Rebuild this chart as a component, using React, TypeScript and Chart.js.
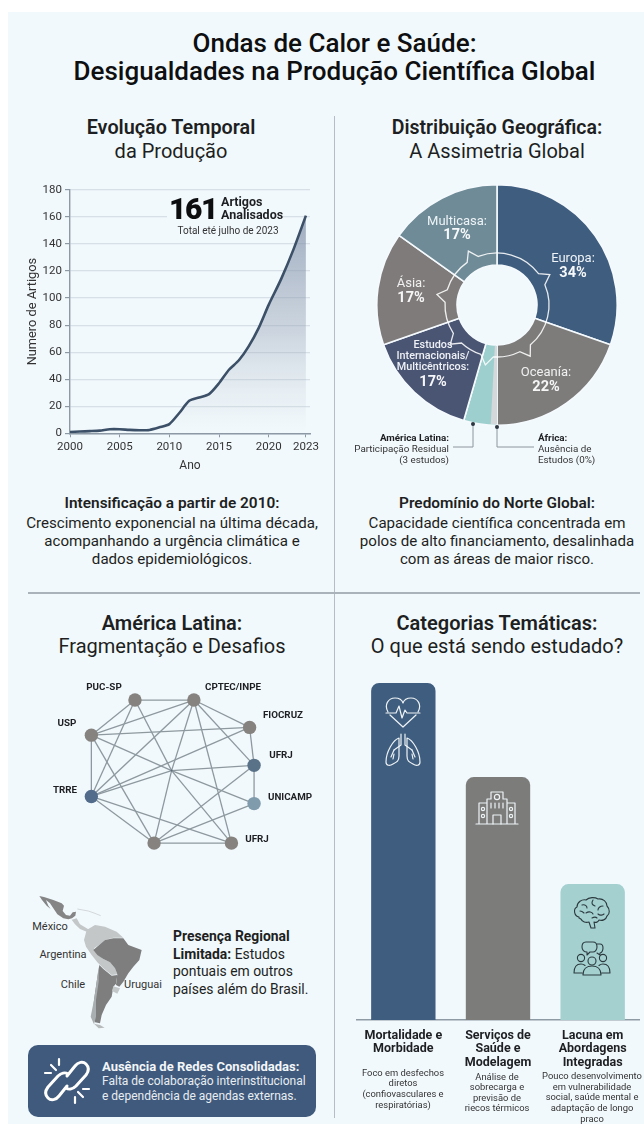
import React, { useEffect, useRef } from "react";
import { Chart, LinearScale, registerables } from "chart.js";

// Axis whose last three years are drawn wider than the rest of the timeline.
const YEAR_STRETCH_FROM = 2020;
const YEAR_STRETCH = 1.25;
class StretchedYearScale extends LinearScale {
  static id = "stretchedYear";
  static defaults = {};
  getPixelForValue(value: number) {
    const u = value <= YEAR_STRETCH_FROM ? value : YEAR_STRETCH_FROM + (value - YEAR_STRETCH_FROM) * YEAR_STRETCH;
    return super.getPixelForValue(u);
  }
}
Chart.register(...registerables, StretchedYearScale);

const FONT = "Roboto, 'Noto Sans', sans-serif";
const PAPER = "#f2f9fc";
const INK = "#1d1f22";

// Temporal evolution
const years = [2000, 2001, 2002, 2003, 2004, 2005, 2006, 2007, 2008, 2009, 2010, 2011, 2012, 2013, 2014, 2015, 2016, 2017, 2018, 2019, 2020, 2021, 2022, 2023];
const articleCounts = [1, 1.3, 1.6, 2, 3, 3, 2.5, 2.3, 2.5, 4.4, 6.8, 15, 24, 26.5, 29, 37, 47, 54, 64.5, 78, 95, 114, 136, 161];
const yearTicks = [2000, 2005, 2010, 2015, 2020, 2023];

// Geographic distribution
const regions = ["Europa", "Oceanía", "África", "América Latina", "Estudos Internacionais/Multicêntricos", "Ásia", "Multicasa"];
const regionShares = [34, 22, 0, 5, 17, 17, 17];
const regionColors = ["#3f5d7e", "#7d7c7b", "#d5d8da", "#9dcfcf", "#4a5473", "#807b7b", "#6f8b97"];
const gearTeethDegrees = [60, 147, 191, 230, 280, 332];

// Latin American collaboration network
const institutions = ["PUC-SP", "CPTEC/INPE", "FIOCRUZ", "UFRJ", "UNICAMP", "UFRJ", "", "TRRE", "USP", ""];
const nodeX = [340, 525, 700, 714, 714, 643, 400, 203, 203, 455];
const nodeY = [75, 75, 163, 285, 408, 535, 535, 385, 188, 302];
const nodeColors = ["#85827f", "#85827f", "#85827f", "#5a7288", "#7f9bac", "#85827f", "#85827f", "#546c8c", "#85827f", "#5a6a78"];
const nodeSizes = [6.7, 6.7, 6.7, 6.7, 6.7, 6.7, 6.7, 6.7, 6.7, 1];
const links = [
  [0, 1], [0, 8], [0, 7], [0, 9], [1, 8], [1, 7], [1, 9], [1, 2], [1, 3], [1, 5],
  [2, 8], [2, 7], [2, 3], [3, 4], [3, 6], [3, 9], [9, 7], [4, 6], [4, 9], [9, 8],
  [8, 7], [8, 6], [7, 6], [7, 5], [6, 5], [9, 5], [9, 6],
];

// Thematic categories
const themes = [["Mortalidade e", "Morbidade"], ["Serviços de", "Saúde e", "Modelagem"], ["Lacuna em", "Abordagens", "Integradas"]];
const themeWeights = [97.7, 70.4, 39.4];
const themeColors = ["#3f5d7f", "#7c7c7b", "#a4d0d0"];

function useChart(make: () => any) {
  const ref = useRef<HTMLCanvasElement>(null);
  useEffect(() => {
    const chart = new Chart(ref.current!, make());
    return () => chart.destroy();
  }, []);
  return ref;
}

function ChartCanvas({ left, top, width, height, make }: any) {
  const ref = useChart(make);
  return <canvas ref={ref} width={width} height={height} style={{ position: "absolute", left, top, width, height }} />;
}

function Txt({ x, y, size, weight = 400, color = INK, align = "center", children, spacing }: any) {
  const shift = align === "center" ? "-50%" : align === "right" ? "-100%" : "0";
  return (
    <div style={{
      position: "absolute", left: x, top: y, transform: `translate(${shift}, -50%)`, whiteSpace: "nowrap",
      fontFamily: FONT, fontSize: size, fontWeight: weight, color, lineHeight: 1.1, letterSpacing: spacing,
    }}>{children}</div>
  );
}

const lineConfig = () => ({
  type: "line",
  data: {
    datasets: [{
      data: years.map((x, i) => ({ x, y: articleCounts[i] })),
      borderColor: "#3c5068",
      borderWidth: 2.6,
      pointRadius: 0,
      tension: 0.25,
      fill: "origin",
      backgroundColor: (ctx: any) => {
        const area = ctx.chart.chartArea;
        if (!area) return "transparent";
        const g = ctx.chart.ctx.createLinearGradient(0, area.top + 25, 0, area.bottom);
        g.addColorStop(0, "rgba(126,142,168,0.72)");
        g.addColorStop(0.55, "rgba(150,162,182,0.4)");
        g.addColorStop(1, "rgba(190,200,214,0)");
        return g;
      },
    }],
  },
  options: {
    responsive: false,
    animation: false,
    layout: { autoPadding: false, padding: { top: 9.3, right: 20 } },
    plugins: { legend: { display: false }, tooltip: { enabled: false } },
    scales: {
      x: {
        type: "stretchedYear",
        min: 2000,
        max: 2024.16,
        afterBuildTicks: (s: any) => { s.ticks = yearTicks.map((value) => ({ value })); },
        afterFit: (s: any) => { s.height = 41.7; },
        ticks: { callback: (v: any) => String(v), autoSkip: false, maxRotation: 0, font: { family: FONT, size: 11.5 }, color: "#333", padding: 3 },
        grid: { drawOnChartArea: false, tickLength: 4, tickColor: "#8d9aa5" },
        border: { color: "#8d9aa5", width: 1.4 },
        title: { display: true, text: "Ano", font: { family: FONT, size: 12 }, color: "#333", padding: { bottom: 2, top: 0 } },
      },
      y: {
        min: 0,
        max: 180,
        afterFit: (s: any) => { s.width = 60; },
        ticks: { stepSize: 20, font: { family: FONT, size: 11.5 }, color: "#333", padding: 3 },
        grid: { color: "#d6e0e6", lineWidth: 1.2, tickLength: 5, tickColor: "#8d9aa5" },
        border: { color: "#8d9aa5", width: 1.4 },
        title: { display: true, text: "Numero de Artigos", font: { family: FONT, size: 12.8 }, color: "#333", padding: { top: 15, bottom: 0 } },
      },
    },
  },
});

// Draws the pale wedge of a zero-share region and the toothed ring over the slices.
const doughnutDecor = {
  id: "doughnutDecor",
  afterDatasetsDraw(chart: any) {
    const arcs = chart.getDatasetMeta(0).data;
    const zero = arcs[regionShares.indexOf(0)];
    const { ctx } = chart;
    const rad = Math.PI / 180;
    ctx.save();
    ctx.fillStyle = regionColors[2];
    ctx.beginPath();
    ctx.arc(zero.x, zero.y, zero.outerRadius - 1, zero.startAngle, zero.startAngle + 3 * rad);
    ctx.arc(zero.x, zero.y, zero.innerRadius + 1, zero.startAngle + 3 * rad, zero.startAngle, true);
    ctx.closePath();
    ctx.fill();

    ctx.strokeStyle = "rgba(255,255,255,0.88)";
    ctx.lineWidth = 1.3;
    ctx.beginPath();
    const ring = 52;
    const tip = 61;
    const half = 7;
    const toXY = (deg: number, r: number) => [zero.x + r * Math.sin(deg * rad), zero.y - r * Math.cos(deg * rad)];
    let from = gearTeethDegrees[gearTeethDegrees.length - 1] + half - 360;
    const start = toXY(from, ring);
    ctx.moveTo(start[0], start[1]);
    gearTeethDegrees.forEach((t) => {
      ctx.arc(zero.x, zero.y, ring, (from - 90) * rad, (t - half - 90) * rad);
      const p = toXY(t, tip);
      const q = toXY(t + half, ring);
      ctx.lineTo(p[0], p[1]);
      ctx.lineTo(q[0], q[1]);
      from = t + half;
    });
    ctx.closePath();
    ctx.stroke();
    ctx.restore();
  },
};

const doughnutConfig = () => ({
  type: "doughnut",
  data: {
    labels: regions,
    datasets: [{ data: regionShares, backgroundColor: regionColors, borderColor: "#f4fafd", borderWidth: 1.6 }],
  },
  options: {
    responsive: false,
    animation: false,
    cutout: 40,
    plugins: { legend: { display: false }, tooltip: { enabled: false } },
  },
  plugins: [doughnutDecor],
});

const networkConfig = () => ({
  type: "scatter",
  data: {
    datasets: [
      {
        data: nodeX.map((x, i) => ({ x, y: nodeY[i] })),
        pointBackgroundColor: nodeColors,
        pointBorderWidth: 0,
        pointRadius: nodeSizes,
        showLine: false,
      },
      ...links.map(([a, b]) => ({
        data: [{ x: nodeX[a], y: nodeY[a] }, { x: nodeX[b], y: nodeY[b] }],
        showLine: true,
        borderColor: "#8d999f",
        borderWidth: 1.3,
        pointRadius: 0,
      })),
    ],
  },
  options: {
    responsive: false,
    animation: false,
    plugins: { legend: { display: false }, tooltip: { enabled: false } },
    scales: {
      x: { display: false, min: 0, max: 900 },
      y: { display: false, min: 0, max: 600, reverse: true },
    },
  },
});

const barConfig = () => ({
  type: "bar",
  data: {
    labels: themes,
    datasets: [{
      data: themeWeights,
      backgroundColor: themeColors,
      borderRadius: 8,
      categoryPercentage: 1,
      barPercentage: 0.68,
    }],
  },
  options: {
    responsive: false,
    animation: false,
    layout: { autoPadding: false },
    plugins: { legend: { display: false }, tooltip: { enabled: false } },
    scales: {
      x: {
        afterFit: (s: any) => { s.height = 55; },
        ticks: { maxRotation: 0, autoSkip: false, font: { family: FONT, size: 12.5, weight: "700", lineHeight: 1.08 }, color: INK, padding: 1 },
        grid: { display: false },
        border: { color: "#8e9ba4", width: 1.5 },
      },
      y: { display: false, min: 0, max: 100 },
    },
  },
});

const stroke = { fill: "none", stroke: "#eef3f5", strokeWidth: 1.2, strokeLinecap: "round", strokeLinejoin: "round" } as any;
const dark = { fill: "none", stroke: "#2c3a3e", strokeWidth: 1.1, strokeLinecap: "round", strokeLinejoin: "round" } as any;

function Icon({ x, y, w, h, children }: any) {
  return <svg viewBox={`0 0 ${w} ${h}`} width={w} height={h} style={{ position: "absolute", left: x - w / 2, top: y - h / 2, overflow: "visible" }}>{children}</svg>;
}

function ThemeIcons() {
  return (
    <>
      <Icon x={403} y={712} w={36} h={32}><g {...stroke}>
        <path d="M3 16C-1 9 3 2 10 2c4 0 7 2 8 5 1-3 4-5 8-5 7 0 11 7 7 14" />
        <path d="M5 19l13 12 13-12" />
        <path d="M1 17H11l3-7 3 12 3-8 2 3H35" />
      </g></Icon>
      <Icon x={403} y={750} w={36} h={34}><g {...stroke}>
        <path d="M16 1v11l-7 5M20 1v11l7 5" />
        <path d="M14 5C8 7 1 19 1 29c0 4 4 4 7 2 4-2 6-3 6-8z" />
        <path d="M22 5c6 2 13 14 13 24 0 4-4 4-7 2-4-2-6-3-6-8z" />
        <path d="M9 17l-3 7M9 21l-1 5M27 17l3 7M27 21l1 5" />
      </g></Icon>
      <Icon x={497} y={808} w={42} h={34}><g {...stroke}>
        <path d="M0 33H42M3 33V12H11M39 33V12H31M11 33V8H15V1H27V8H31V33" />
        <circle cx="21" cy="6" r="2.6" />
        <path d="M17 33V24H25V33M15 12v5M19 12v5M23 12v5M27 12v5" />
        <circle cx="7" cy="18" r="1.6" /><circle cx="7" cy="25" r="1.6" /><circle cx="35" cy="18" r="1.6" /><circle cx="35" cy="25" r="1.6" />
      </g></Icon>
      <Icon x={592} y={913} w={38} h={34}><g {...dark}>
        <path d="M6 21C1 20 0 13 4 11 4 6 9 3 13 4c3-3 9-3 12-1 5-1 9 3 9 7 3 3 3 8 0 10-1 4-5 5-8 4-1 2-3 3-5 2l1 6h-4l-2-6c-3 1-7 0-8-3-1 0-1-1-2-1z" />
        <path d="M9 9c3-1 5 1 5 3M20 4c-2 3-1 5 2 6M30 10c-3 0-5 2-5 4M13 17c3-2 6-1 7 1M7 15c2 0 3 1 4 2M25 18c2 2 5 1 6 0M19 22c2-1 4-1 5 0" />
      </g></Icon>
      <Icon x={592} y={958} w={38} h={34}><g {...dark}>
        <path d="M13 1h7c3 0 4 2 4 5s-2 5-4 5h-3l-3 3v-3c-3 0-5-2-5-5s1-5 4-5z" />
        <path d="M24 3h3c2 0 3 2 3 4s-1 5-3 5v2l-3-2" />
        <circle cx="8" cy="17" r="3.6" /><circle cx="30" cy="17" r="3.6" /><circle cx="19" cy="20" r="4" />
        <path d="M1 32c0-6 3-9 7-9 2 0 3 .5 4 1.5M37 32c0-6-3-9-7-9-2 0-3 .5-4 1.5M1 32h8M29 32h8M10 34c0-6 4-9 9-9s9 3 9 9z" />
      </g></Icon>
    </>
  );
}

function LatinAmericaMap() {
  const darkLand = "#7e7e7e";
  const lightLand = "#c3c7c8";
  return (
    <svg viewBox="0 0 390 435" width={130} height={145} style={{ position: "absolute", left: 20, top: 885 }}>
      <path fill="#858585" d="M58 33L72 36 100 45 125 55 132 62 128 78 138 90 150 92 158 82 168 80 166 92 156 100 145 103 130 100 112 88 100 70 90 55 78 45 85 62 92 72 80 62 66 45z" />
      <path fill="none" stroke={lightLand} strokeWidth="2" d="M172 72L205 78 222 84 242 92" />
      <path fill={lightLand} d="M155 104L170 100 180 118 200 130 208 135 200 140 180 132 165 118z" />
      <path fill={lightLand} d="M200 135L225 120 255 125 290 140 310 158 280 158 255 165 240 178 222 190 235 210 250 222 270 232 285 250 292 268 275 270 250 250 232 232 215 210 198 185 192 165z" />
      <path fill={darkLand} d="M220 195L240 178 255 165 280 160 310 160 325 180 365 195 358 225 340 245 325 265 310 290 298 305 288 300 292 268 285 250 270 232 250 222 232 210z" />
      <path fill={darkLand} d="M238 240L250 252 275 272 292 270 288 296 280 305 275 335 258 360 245 390 240 415 225 412 218 395 222 345 230 290z" />
      <path fill="#a9aeb0" d="M236 245L230 290 222 345 212 395 222 418 228 395 228 345 236 290z" />
      <path fill={lightLand} d="M280 304L300 310 292 326 276 318z" />
      <path fill="#b7bbbc" d="M222 416L240 420 254 428 236 430z" />
    </svg>
  );
}

function BrokenLinkIcon() {
  const s = { fill: "none", stroke: "#ffffff", strokeWidth: 3, strokeLinecap: "round", strokeLinejoin: "round" } as any;
  return (
    <Icon x={67} y={1081} w={46} h={46}><g {...s}>
      <path d="M23 18l8-10c3-4 8-5 11-2s3 7 0 11l-10 11c-3 3-7 4-10 2" />
      <path d="M23 28l-8 10c-3 4-8 5-11 2s-3-7 0-11l10-11c3-3 7-4 10-2" />
      <path d="M7 7l5 5M1 15H7M15 1v6M39 39l-5-5M45 31h-6M31 45v-6" strokeWidth="2.2" />
    </g></Icon>
  );
}

export default function App() {
  return (
    <div style={{ position: "absolute", left: 0, top: 0, width: 644, height: 1124, overflow: "hidden", background: "#fff" }}>
      <div style={{ position: "absolute", left: 8, top: 12, width: 636, height: 1112, background: PAPER }} />
      <div style={{ position: "absolute", left: 333.5, top: 116, width: 1.5, height: 1002, background: "#b6bec4" }} />
      <div style={{ position: "absolute", left: 28, top: 592, width: 612, height: 1.5, background: "#aab3b9" }} />

      <Txt x={334.5} y={43} size={26} weight={500} color="#0e0f11">Ondas de Calor e Saúde:</Txt>
      <Txt x={334.5} y={71} size={26} weight={500} color="#0e0f11">Desigualdades na Produção Científica Global</Txt>

      <Txt x={171} y={128} size={19.8} weight={600}>Evolução Temporal</Txt>
      <Txt x={171} y={151} size={20}>da Produção</Txt>
      <Txt x={497} y={128} size={19.5} weight={600}>Distribuição Geográfica:</Txt>
      <Txt x={497} y={151} size={20}>A Assimetria Global</Txt>

      <ChartCanvas left={10} top={180} width={320} height={295} make={lineConfig} />
      <div style={{ position: "absolute", left: 167, top: 192, width: 116, height: 45, background: PAPER }} />
      <Txt x={169} y={208} size={30} weight={900} align="left" color="#0c0d0f" spacing={-1.4}>161</Txt>
      <Txt x={221} y={202} size={12.5} weight={700} align="left">Artigos</Txt>
      <Txt x={221} y={215} size={12.5} weight={700} align="left">Analisados</Txt>
      <Txt x={228} y={230} size={10} color="#333">Total eté julho de 2023</Txt>

      <ChartCanvas left={376} top={184} width={242} height={242} make={doughnutConfig} />
      <Txt x={573} y={258} size={13} color="#eef4f7">Europa:</Txt>
      <Txt x={573} y={273} size={14.5} weight={700} color="#f6f9fb">34%</Txt>
      <Txt x={546} y={372} size={13} color="#f1f1f1">Oceanía:</Txt>
      <Txt x={546} y={387} size={14.5} weight={700} color="#f6f6f6">22%</Txt>
      <Txt x={411} y={283} size={13} color="#f1f1f1">Ásia:</Txt>
      <Txt x={411} y={298} size={14.5} weight={700} color="#f6f6f6">17%</Txt>
      <Txt x={457} y={221} size={13} color="#eef4f7">Multicasa:</Txt>
      <Txt x={457} y={235} size={14.5} weight={700} color="#f6f9fb">17%</Txt>
      <Txt x={433} y={345} size={10.8} weight={500} color="#eef1f5">Estudos</Txt>
      <Txt x={433} y={356} size={10.8} weight={500} color="#eef1f5">Internacionais/</Txt>
      <Txt x={433} y={367} size={10.8} weight={500} color="#eef1f5">Multicêntricos:</Txt>
      <Txt x={433} y={382} size={14.5} weight={700} color="#f6f7fa">17%</Txt>

      <svg width={644} height={480} style={{ position: "absolute", left: 0, top: 0, pointerEvents: "none" }}>
        <path d="M473 424V447H453M497 427V447H534" fill="none" stroke="#8c969c" strokeWidth="1" />
        <circle cx={473} cy={424} r={2} fill="#2b3640" />
        <circle cx={497} cy={427} r={2} fill="#2b3640" />
      </svg>
      <Txt x={449} y={438} size={9.8} weight={700} align="right">América Latina:</Txt>
      <Txt x={449} y={449} size={9.8} align="right" color="#333">Participação Residual</Txt>
      <Txt x={449} y={460} size={9.8} align="right" color="#333">(3 estudos)</Txt>
      <Txt x={538} y={438} size={9.8} weight={700} align="left">África:</Txt>
      <Txt x={538} y={449} size={9.8} align="left" color="#333">Ausência de</Txt>
      <Txt x={538} y={460} size={9.8} align="left" color="#333">Estudos (0%)</Txt>

      <Txt x={172} y={503} size={15.4} weight={600}>Intensificação a partir de 2010:</Txt>
      <Txt x={172} y={522.5} size={15.1}>Crescimento exponencial na última década,</Txt>
      <Txt x={172} y={541} size={15.1}>acompanhando a urgência climática e</Txt>
      <Txt x={172} y={559} size={15.1}>dados epidemiológicos.</Txt>
      <Txt x={497} y={503} size={15.4} weight={600}>Predomínio do Norte Global:</Txt>
      <Txt x={497} y={522.5} size={15.1}>Capacidade científica concentrada em</Txt>
      <Txt x={497} y={541} size={15.1}>polos de alto financiamento, desalinhada</Txt>
      <Txt x={497} y={559} size={15.1}>com as áreas de maior risco.</Txt>

      <Txt x={172} y={623} size={20} weight={600}>América Latina:</Txt>
      <Txt x={172} y={646} size={20}>Fragmentação e Desafios</Txt>
      <Txt x={497} y={623} size={20} weight={600}>Categorias Temáticas:</Txt>
      <Txt x={497} y={646} size={20}>O que está sendo estudado?</Txt>

      <ChartCanvas left={20} top={670} width={300} height={200} make={networkConfig} />
      <Txt x={104} y={687} size={9.8} weight={700}>{institutions[0]}</Txt>
      <Txt x={233} y={687} size={9.8} weight={700}>{institutions[1]}</Txt>
      <Txt x={283} y={715} size={9.8} weight={700}>{institutions[2]}</Txt>
      <Txt x={281} y={755} size={9.8} weight={700}>{institutions[3]}</Txt>
      <Txt x={290} y={797} size={9.8} weight={700}>{institutions[4]}</Txt>
      <Txt x={257} y={839} size={9.8} weight={700}>{institutions[5]}</Txt>
      <Txt x={67} y={723} size={9.8} weight={700}>{institutions[8]}</Txt>
      <Txt x={65} y={790} size={9.8} weight={700}>{institutions[7]}</Txt>

      <LatinAmericaMap />
      <Txt x={50} y={927} size={11} color="#333">México</Txt>
      <Txt x={63} y={955} size={11} color="#333">Argentina</Txt>
      <Txt x={73} y={985} size={11} color="#333">Chile</Txt>
      <Txt x={143} y={985} size={11} color="#333">Uruguai</Txt>
      <Txt x={173} y={937} size={13.9} weight={700} align="left">Presença Regional</Txt>
      <Txt x={173} y={955} size={13.9} align="left"><b>Limitada:</b> Estudos</Txt>
      <Txt x={173} y={972} size={13.9} align="left">pontuais em outros</Txt>
      <Txt x={173} y={990} size={13.9} align="left">países além do Brasil.</Txt>

      <div style={{ position: "absolute", left: 28, top: 1045, width: 288, height: 72, borderRadius: 10, background: "#3f5a7c" }} />
      <BrokenLinkIcon />
      <Txt x={102} y={1067} size={13} weight={700} align="left" color="#f3f6f9">Ausência de Redes Consolidadas:</Txt>
      <Txt x={102} y={1082} size={12} align="left" color="#e8edf2">Falta de colaboração interinstitucional</Txt>
      <Txt x={102} y={1097} size={12} align="left" color="#e8edf2">e dependência de agendas externas.</Txt>

      <ChartCanvas left={356} top={675} width={284} height={400} make={barConfig} />
      <ThemeIcons />
      <Txt x={403} y={1073} size={9.4} color="#333">Foco em desfechos</Txt>
      <Txt x={403} y={1083} size={9.4} color="#333">diretos</Txt>
      <Txt x={403} y={1094} size={9.4} color="#333">(confiovasculares e</Txt>
      <Txt x={403} y={1105} size={9.4} color="#333">respiratórias)</Txt>
      <Txt x={497} y={1077} size={9.4} color="#333">Análise de</Txt>
      <Txt x={497} y={1087} size={9.4} color="#333">sobrecarga e</Txt>
      <Txt x={497} y={1098} size={9.4} color="#333">previsão de</Txt>
      <Txt x={497} y={1108} size={9.4} color="#333">riecos térmicos</Txt>
      <Txt x={592} y={1076} size={9.4} color="#333">Pouco desenvolvimento</Txt>
      <Txt x={592} y={1087} size={9.4} color="#333">em vulnerabilidade</Txt>
      <Txt x={592} y={1097} size={9.4} color="#333">social, saúde mental e</Txt>
      <Txt x={592} y={1108} size={9.4} color="#333">adaptação de longo</Txt>
      <Txt x={592} y={1119} size={9.4} color="#333">praco</Txt>
    </div>
  );
}
